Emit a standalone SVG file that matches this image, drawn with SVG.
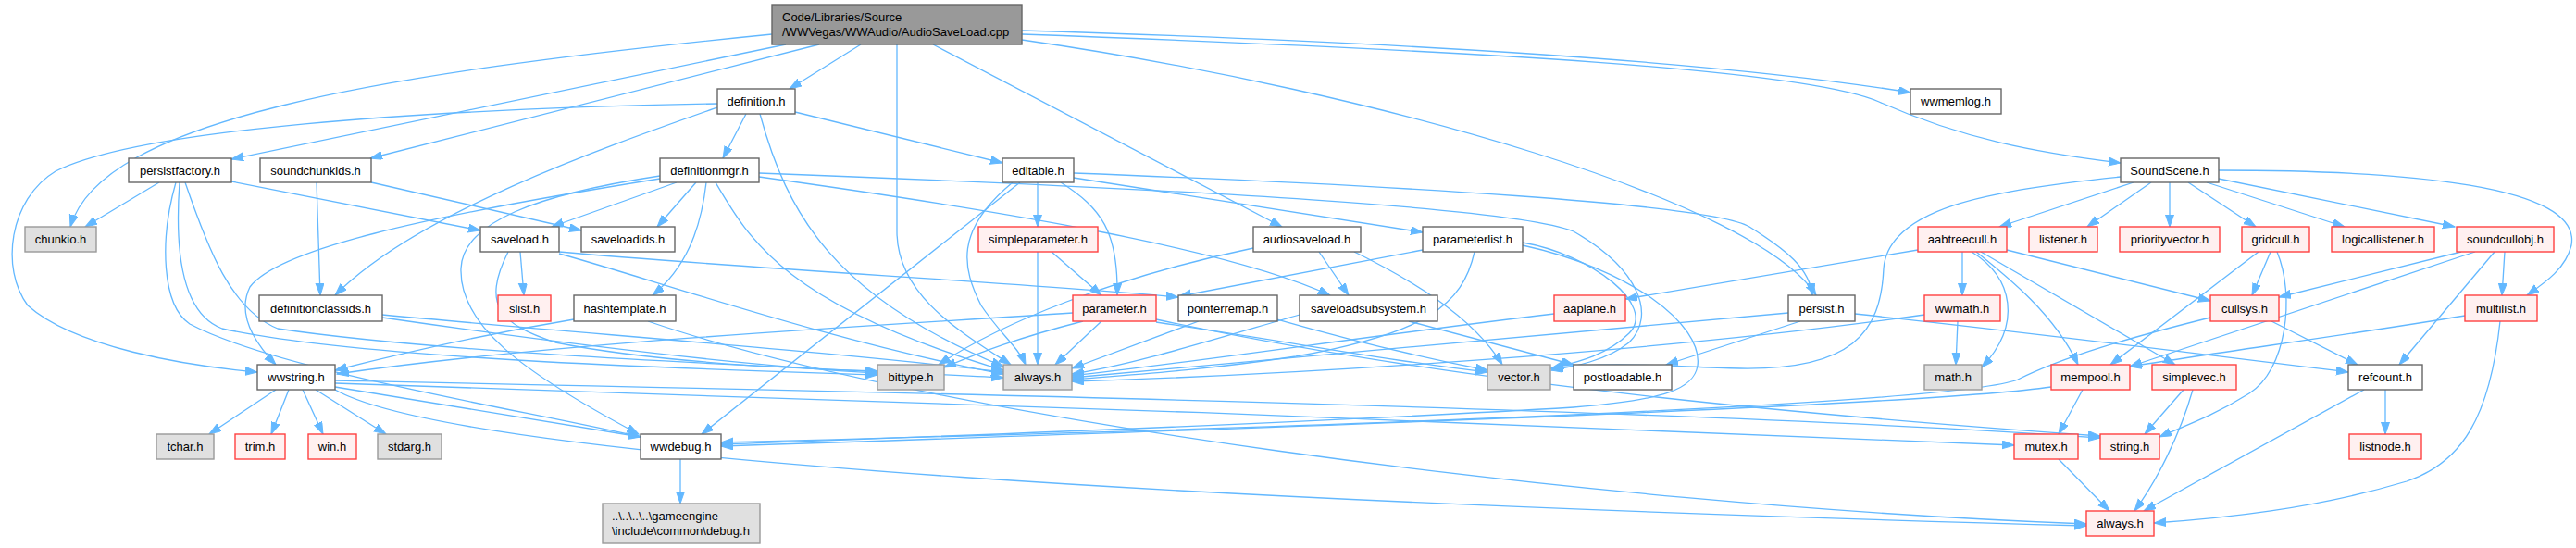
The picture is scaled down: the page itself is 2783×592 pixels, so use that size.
<svg xmlns="http://www.w3.org/2000/svg" width="2783" height="592" viewBox="0 0 2783 592">
<style>
.e{fill:none;stroke:#63b8ff;stroke-width:1.3;marker-end:url(#a)}
.w{fill:#ffffff;stroke:#666666;stroke-width:1.4}
.g{fill:#e0e0e0;stroke:#999999;stroke-width:1.4}
.r{fill:#fff0f0;stroke:#ff4040;stroke-width:1.4}
.m{fill:#999999;stroke:#666666;stroke-width:1.4}
text{font-family:"Liberation Sans",Arial,sans-serif;font-size:13px;fill:#000000;text-anchor:middle}
text.l{text-anchor:start}
</style>
<defs>
<marker id="a" markerWidth="14" markerHeight="10" refX="13" refY="4.5" orient="auto" markerUnits="userSpaceOnUse">
<path d="M0,0 L13,4.5 L0,9 z" fill="#63b8ff" stroke="#63b8ff" stroke-width="1"/>
</marker>
</defs>
<rect x="0" y="0" width="2783" height="592" fill="#ffffff"/>
<g id="edges">
<path class="e" d="M930,48 L853,96"/>
<path class="e" d="M849,48 L250,172"/>
<path class="e" d="M885,48 L400,171"/>
<path class="e" d="M834,37 C400,80 110,130 76,245"/>
<path class="e" d="M969,48 L969,250 C969,320 1040,360 1092,394"/>
<path class="e" d="M1008,48 L1385,245"/>
<path class="e" d="M1104,43 C1500,100 1900,220 1962,319"/>
<path class="e" d="M1104,33 C1500,45 1850,65 2064,100"/>
<path class="e" d="M1104,37 C1600,55 1950,75 2030,110 C2120,150 2200,165 2291,176"/>
<path class="e" d="M775,112 C450,118 150,140 60,185 C10,215 0,290 30,330 C80,375 200,395 278,402"/>
<path class="e" d="M775,116 C650,160 450,230 362,319"/>
<path class="e" d="M806,123 L781,171"/>
<path class="e" d="M859,121 L1083,176"/>
<path class="e" d="M821,123 C850,230 900,320 1084,396"/>
<path class="e" d="M172,197 L92,245"/>
<path class="e" d="M250,196 L519,249"/>
<path class="e" d="M190,197 C172,260 175,330 205,350 C300,400 550,440 692,472"/>
<path class="e" d="M194,197 C188,280 200,340 240,355 C400,390 800,400 948,405"/>
<path class="e" d="M200,197 C225,270 250,335 300,355 C500,385 900,398 1084,408"/>
<path class="e" d="M401,197 L628,249"/>
<path class="e" d="M342,197 L346,319"/>
<path class="e" d="M731,197 L596,245"/>
<path class="e" d="M752,197 L710,245"/>
<path class="e" d="M763,197 C757,250 740,290 705,319"/>
<path class="e" d="M773,197 C810,260 850,330 1084,400"/>
<path class="e" d="M713,193 C450,235 300,270 270,310 C255,340 275,370 298,394"/>
<path class="e" d="M713,190 C580,210 500,240 498,290 C496,350 560,400 690,469"/>
<path class="e" d="M820,191 C1100,230 1330,270 1437,319"/>
<path class="e" d="M820,187 C1300,205 1640,225 1700,250 C1770,290 1790,340 1760,370 C1735,390 1700,396 1676,400"/>
<path class="e" d="M1121,197 L1121,245"/>
<path class="e" d="M1146,197 C1190,225 1208,250 1207,319"/>
<path class="e" d="M1102,197 L758,469"/>
<path class="e" d="M1094,197 C1030,250 1040,290 1060,330 C1080,360 1100,375 1108,394"/>
<path class="e" d="M1160,192 L1537,251"/>
<path class="e" d="M1160,187 C1500,200 1850,220 1890,245 C1930,270 1955,290 1958,319"/>
<path class="e" d="M2305,197 L2160,245"/>
<path class="e" d="M2324,197 L2255,245"/>
<path class="e" d="M2344,197 L2344,245"/>
<path class="e" d="M2364,197 L2437,245"/>
<path class="e" d="M2384,197 L2533,245"/>
<path class="e" d="M2397,193 L2652,245"/>
<path class="e" d="M2397,184 C2600,184 2790,200 2778,265 C2772,290 2750,305 2730,319"/>
<path class="e" d="M2291,191 C2150,205 2040,225 2035,290 C2032,360 2000,400 1880,398 C1800,396 1740,390 1676,398"/>
<path class="e" d="M562,272 L566,319"/>
<path class="e" d="M604,272 C800,290 1100,305 1273,321"/>
<path class="e" d="M604,274 C700,300 900,370 1084,404"/>
<path class="e" d="M549,272 C520,330 540,350 600,370 C700,390 850,398 948,401"/>
<path class="e" d="M1425,272 L1457,319"/>
<path class="e" d="M1463,272 C1520,300 1590,340 1623,394"/>
<path class="e" d="M1354,268 C1200,300 1080,350 1014,394"/>
<path class="e" d="M1537,270 L1274,320"/>
<path class="e" d="M1593,272 C1580,330 1540,360 1400,385 C1300,400 1220,405 1158,410"/>
<path class="e" d="M1645,262 C1720,275 1790,330 1760,360 C1735,385 1700,392 1676,398"/>
<path class="e" d="M1645,265 C1760,290 1840,350 1834,395 C1830,420 1800,432 1700,440 C1400,458 1000,472 779,480"/>
<path class="e" d="M1136,272 L1190,319"/>
<path class="e" d="M1121,272 L1121,394"/>
<path class="e" d="M413,340 C650,362 900,380 1084,402"/>
<path class="e" d="M413,343 C600,370 800,395 948,403"/>
<path class="e" d="M620,345 C530,360 440,380 362,400"/>
<path class="e" d="M700,347 C1000,450 1700,545 2254,566"/>
<path class="e" d="M1159,338 C900,355 600,370 364,404"/>
<path class="e" d="M1170,347 C1100,365 1060,380 1020,397"/>
<path class="e" d="M1190,347 L1140,394"/>
<path class="e" d="M1249,348 C1400,370 1500,390 1607,402"/>
<path class="e" d="M1249,345 C1600,420 2000,452 2269,471"/>
<path class="e" d="M1295,347 L1158,398"/>
<path class="e" d="M1380,345 C1450,365 1530,385 1607,400"/>
<path class="e" d="M1404,340 C1300,370 1220,395 1158,404"/>
<path class="e" d="M1522,347 L1700,394"/>
<path class="e" d="M1679,339 C1500,360 1300,390 1158,406"/>
<path class="e" d="M1932,338 C1600,370 1300,395 1158,408"/>
<path class="e" d="M1945,347 L1800,394"/>
<path class="e" d="M2004,339 C2200,360 2400,385 2537,402"/>
<path class="e" d="M2115,347 L2113,394"/>
<path class="e" d="M2079,340 C1800,380 1400,405 1158,412"/>
<path class="e" d="M2120,272 L2120,319"/>
<path class="e" d="M2130,272 C2175,300 2185,350 2141,397"/>
<path class="e" d="M2135,272 C2170,300 2220,340 2245,394"/>
<path class="e" d="M2140,272 L2350,394"/>
<path class="e" d="M2168,270 L2388,325"/>
<path class="e" d="M2072,270 L1756,323"/>
<path class="e" d="M2453,272 L2433,319"/>
<path class="e" d="M2440,272 L2280,394"/>
<path class="e" d="M2460,272 C2480,320 2470,400 2430,425 C2390,450 2360,460 2333,472"/>
<path class="e" d="M2659,272 L2462,321"/>
<path class="e" d="M2674,272 L2301,396"/>
<path class="e" d="M2695,272 L2592,394"/>
<path class="e" d="M2706,272 L2703,319"/>
<path class="e" d="M2454,347 L2547,394"/>
<path class="e" d="M2388,343 C2300,365 2230,385 2180,410 C2130,430 1700,455 779,478"/>
<path class="e" d="M2663,341 C2550,360 2400,380 2301,396"/>
<path class="e" d="M2701,347 C2690,450 2660,500 2600,520 C2500,550 2400,560 2327,565"/>
<path class="e" d="M2250,421 L2224,469"/>
<path class="e" d="M2216,418 C2100,435 1600,455 779,482"/>
<path class="e" d="M2359,421 L2317,469"/>
<path class="e" d="M2369,421 C2355,470 2330,520 2306,552"/>
<path class="e" d="M2577,421 L2577,469"/>
<path class="e" d="M2554,421 L2316,552"/>
<path class="e" d="M2224,496 L2279,552"/>
<path class="e" d="M298,421 L226,469"/>
<path class="e" d="M312,421 L293,469"/>
<path class="e" d="M327,421 L349,469"/>
<path class="e" d="M341,421 L417,469"/>
<path class="e" d="M362,418 L692,472"/>
<path class="e" d="M362,411 C800,420 1800,440 2269,473"/>
<path class="e" d="M362,414 C800,428 1700,458 2176,481"/>
<path class="e" d="M362,421 C500,500 1400,545 2254,568"/>
<path class="e" d="M735,496 L735,544"/>
</g>
<g id="n0"><rect class="m" x="834" y="5" width="270" height="43"/><text class="l" x="845" y="22.5">Code/Libraries/Source</text><text class="l" x="845" y="38.5">/WWVegas/WWAudio/AudioSaveLoad.cpp</text></g>
<g id="n1"><rect class="w" x="775" y="96" width="84" height="27"/><text x="817" y="114">definition.h</text></g>
<g id="n2"><rect class="w" x="2064" y="96" width="98" height="27"/><text x="2113" y="114">wwmemlog.h</text></g>
<g id="n3"><rect class="w" x="139" y="171" width="111" height="26"/><text x="194.5" y="188.5">persistfactory.h</text></g>
<g id="n4"><rect class="w" x="281" y="171" width="120" height="26"/><text x="341" y="188.5">soundchunkids.h</text></g>
<g id="n5"><rect class="w" x="713" y="171" width="107" height="26"/><text x="766.5" y="188.5">definitionmgr.h</text></g>
<g id="n6"><rect class="w" x="1083" y="171" width="77" height="26"/><text x="1121.5" y="188.5">editable.h</text></g>
<g id="n7"><rect class="w" x="2291" y="171" width="106" height="26"/><text x="2344" y="188.5">SoundScene.h</text></g>
<g id="n8"><rect class="g" x="27" y="245" width="77" height="27"/><text x="65.5" y="263">chunkio.h</text></g>
<g id="n9"><rect class="w" x="519" y="245" width="85" height="27"/><text x="561.5" y="263">saveload.h</text></g>
<g id="n10"><rect class="w" x="628" y="245" width="101" height="27"/><text x="678.5" y="263">saveloadids.h</text></g>
<g id="n11"><rect class="r" x="1057" y="245" width="129" height="27"/><text x="1121.5" y="263">simpleparameter.h</text></g>
<g id="n12"><rect class="w" x="1354" y="245" width="116" height="27"/><text x="1412" y="263">audiosaveload.h</text></g>
<g id="n13"><rect class="w" x="1537" y="245" width="108" height="27"/><text x="1591" y="263">parameterlist.h</text></g>
<g id="n14"><rect class="r" x="2072" y="245" width="96" height="27"/><text x="2120" y="263">aabtreecull.h</text></g>
<g id="n15"><rect class="r" x="2192" y="245" width="74" height="27"/><text x="2229" y="263">listener.h</text></g>
<g id="n16"><rect class="r" x="2290" y="245" width="108" height="27"/><text x="2344" y="263">priorityvector.h</text></g>
<g id="n17"><rect class="r" x="2422" y="245" width="73" height="27"/><text x="2458.5" y="263">gridcull.h</text></g>
<g id="n18"><rect class="r" x="2519" y="245" width="111" height="27"/><text x="2574.5" y="263">logicallistener.h</text></g>
<g id="n19"><rect class="r" x="2654" y="245" width="105" height="27"/><text x="2706.5" y="263">soundcullobj.h</text></g>
<g id="n20"><rect class="w" x="280" y="319" width="133" height="28"/><text x="346.5" y="337.5">definitionclassids.h</text></g>
<g id="n21"><rect class="r" x="538" y="319" width="57" height="28"/><text x="566.5" y="337.5">slist.h</text></g>
<g id="n22"><rect class="w" x="620" y="319" width="110" height="28"/><text x="675" y="337.5">hashtemplate.h</text></g>
<g id="n23"><rect class="r" x="1159" y="319" width="90" height="28"/><text x="1204" y="337.5">parameter.h</text></g>
<g id="n24"><rect class="w" x="1273" y="319" width="107" height="28"/><text x="1326.5" y="337.5">pointerremap.h</text></g>
<g id="n25"><rect class="w" x="1404" y="319" width="149" height="28"/><text x="1478.5" y="337.5">saveloadsubsystem.h</text></g>
<g id="n26"><rect class="r" x="1679" y="319" width="77" height="28"/><text x="1717.5" y="337.5">aaplane.h</text></g>
<g id="n27"><rect class="w" x="1932" y="319" width="72" height="28"/><text x="1968" y="337.5">persist.h</text></g>
<g id="n28"><rect class="r" x="2079" y="319" width="82" height="28"/><text x="2120" y="337.5">wwmath.h</text></g>
<g id="n29"><rect class="r" x="2388" y="319" width="74" height="28"/><text x="2425" y="337.5">cullsys.h</text></g>
<g id="n30"><rect class="r" x="2663" y="319" width="78" height="28"/><text x="2702" y="337.5">multilist.h</text></g>
<g id="n31"><rect class="w" x="278" y="394" width="84" height="27"/><text x="320" y="412">wwstring.h</text></g>
<g id="n32"><rect class="g" x="948" y="394" width="72" height="27"/><text x="984" y="412">bittype.h</text></g>
<g id="n33"><rect class="g" x="1084" y="394" width="74" height="27"/><text x="1121" y="412">always.h</text></g>
<g id="n34"><rect class="g" x="1607" y="394" width="68" height="27"/><text x="1641" y="412">vector.h</text></g>
<g id="n35"><rect class="w" x="1700" y="394" width="106" height="27"/><text x="1753" y="412">postloadable.h</text></g>
<g id="n36"><rect class="g" x="2079" y="394" width="62" height="27"/><text x="2110" y="412">math.h</text></g>
<g id="n37"><rect class="r" x="2216" y="394" width="85" height="27"/><text x="2258.5" y="412">mempool.h</text></g>
<g id="n38"><rect class="r" x="2325" y="394" width="91" height="27"/><text x="2370.5" y="412">simplevec.h</text></g>
<g id="n39"><rect class="w" x="2537" y="394" width="80" height="27"/><text x="2577" y="412">refcount.h</text></g>
<g id="n40"><rect class="g" x="169" y="469" width="62" height="27"/><text x="200" y="487">tchar.h</text></g>
<g id="n41"><rect class="r" x="254" y="469" width="54" height="27"/><text x="281" y="487">trim.h</text></g>
<g id="n42"><rect class="r" x="333" y="469" width="52" height="27"/><text x="359" y="487">win.h</text></g>
<g id="n43"><rect class="g" x="408" y="469" width="69" height="27"/><text x="442.5" y="487">stdarg.h</text></g>
<g id="n44"><rect class="w" x="692" y="469" width="87" height="27"/><text x="735.5" y="487">wwdebug.h</text></g>
<g id="n45"><rect class="r" x="2176" y="469" width="69" height="27"/><text x="2210.5" y="487">mutex.h</text></g>
<g id="n46"><rect class="r" x="2269" y="469" width="64" height="27"/><text x="2301" y="487">string.h</text></g>
<g id="n47"><rect class="r" x="2538" y="469" width="78" height="27"/><text x="2577" y="487">listnode.h</text></g>
<g id="n48"><rect class="g" x="651" y="544" width="170" height="43"/><text class="l" x="661" y="562">..\..\..\..\gameengine</text><text class="l" x="661" y="578">\include\common\debug.h</text></g>
<g id="n49"><rect class="r" x="2254" y="552" width="73" height="27"/><text x="2290.5" y="570">always.h</text></g>
</svg>
